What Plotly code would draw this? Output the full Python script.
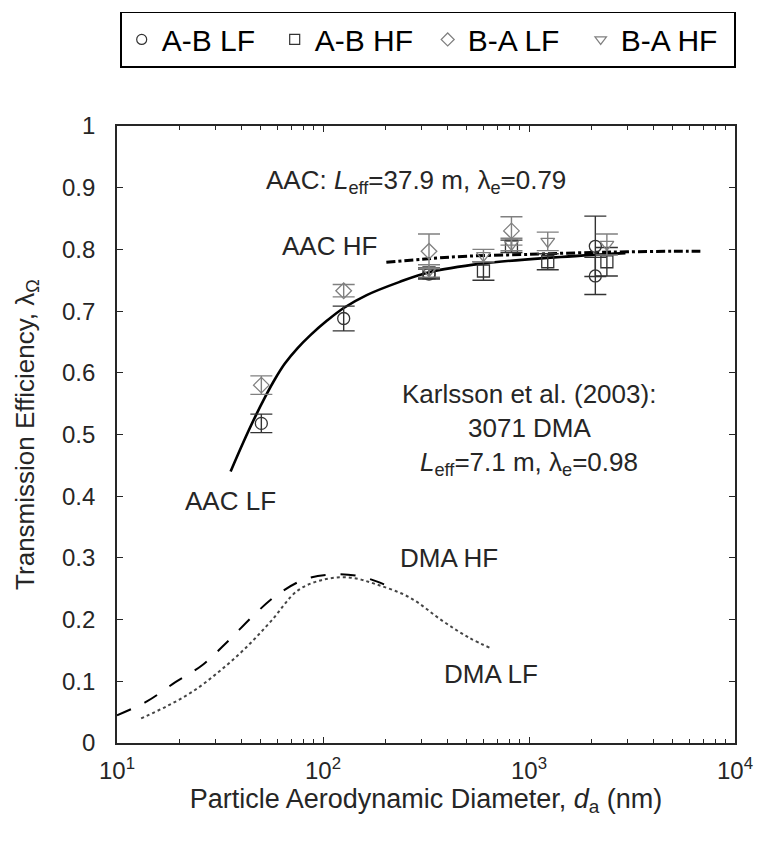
import math
import plotly.graph_objects as go

# ---------------- data ----------------
# AAC fitted curve (solid, LF)
aac_lf_d = [35.6, 41.0, 46.9, 52.4, 58.5, 65.3, 75.3, 86.9, 105, 126, 163, 234, 327, 593, 1327, 2938]
aac_lf_v = [0.440, 0.487, 0.529, 0.561, 0.590, 0.615, 0.640, 0.661, 0.685, 0.705, 0.726, 0.747, 0.763, 0.777, 0.787, 0.794]
# AAC HF (dash-dot)
aac_hf_d = [203, 300, 500, 1000, 2000, 3000, 5000, 6790]
aac_hf_v = [0.779, 0.784, 0.789, 0.792, 0.795, 0.796, 0.797, 0.797]
# DMA HF (dashed)
dma_hf_d = [10.0, 13.9, 19.3, 25.9, 34.8, 46.7, 60.4, 81.1, 109, 146, 182, 220]
dma_hf_v = [0.045, 0.067, 0.099, 0.126, 0.166, 0.209, 0.241, 0.265, 0.273, 0.271, 0.262, 0.250]
# DMA LF (dotted)
dma_lf_d = [13.1, 17.3, 23.2, 31.1, 41.8, 56.1, 75.3, 101, 136, 182, 263, 380, 509, 659]
dma_lf_v = [0.040, 0.059, 0.083, 0.115, 0.153, 0.198, 0.247, 0.265, 0.268, 0.257, 0.236, 0.198, 0.171, 0.153]

# measured points with error bars
ab_lf_d = [50.2, 126, 327, 2099, 2099]
ab_lf_v = [0.518, 0.688, 0.760, 0.757, 0.805]
ab_lf_e = [0.015, 0.020, 0.008, 0.030, 0.049]

ab_hf_d = [327, 601, 822, 1233, 2388]
ab_hf_v = [0.762, 0.765, 0.805, 0.780, 0.780]
ab_hf_e = [0.008, 0.015, 0.010, 0.013, 0.023]

ba_lf_d = [50.2, 126, 327, 822]
ba_lf_v = [0.580, 0.733, 0.797, 0.830]
ba_lf_e = [0.015, 0.010, 0.028, 0.023]

ba_hf_d = [327, 601, 822, 1233, 2388]
ba_hf_v = [0.765, 0.790, 0.808, 0.813, 0.808]
ba_hf_e = [0.010, 0.010, 0.010, 0.015, 0.017]

legend_names = ["A-B LF", "A-B HF", "B-A LF", "B-A HF"]
x_tickvals = [10, 100, 1000, 10000]
x_ticktext = ["10<sup>1</sup>", "10<sup>2</sup>", "10<sup>3</sup>", "10<sup>4</sup>"]
x_minor = [20, 30, 40, 50, 60, 70, 80, 90, 200, 300, 400, 500, 600, 700, 800, 900,
           2000, 3000, 4000, 5000, 6000, 7000, 8000, 9000]

# ---------------- figure ----------------
FONT = "Liberation Sans, Arial, sans-serif"
TXT = "#262626"
DARK = "#333333"
GREY = "#808080"

fig = go.Figure()

fig.add_trace(go.Scatter(x=dma_hf_d, y=dma_hf_v, mode="lines", line_shape="spline",
                         line=dict(color="black", width=2, dash="longdash"), showlegend=False))
fig.add_trace(go.Scatter(x=dma_lf_d, y=dma_lf_v, mode="lines", line_shape="spline",
                         line=dict(color="#444444", width=2, dash="dot"), showlegend=False))
fig.add_trace(go.Scatter(x=aac_hf_d, y=aac_hf_v, mode="lines", line_shape="spline",
                         line=dict(color="black", width=3, dash="dashdot"), showlegend=False))
fig.add_trace(go.Scatter(x=aac_lf_d, y=aac_lf_v, mode="lines", line_shape="spline",
                         line=dict(color="black", width=2.6), showlegend=False))

def pts(d, v, e, sym, col):
    fig.add_trace(go.Scatter(
        x=d, y=v, mode="markers",
        marker=dict(symbol=sym, size=12, color=col, line=dict(color=col, width=1.3)),
        error_y=dict(type="data", array=e, visible=True, color=col,
                     thickness=1.4, width=11),
        showlegend=False))

pts(ab_lf_d, ab_lf_v, ab_lf_e, "circle-open", DARK)
pts(ab_hf_d, ab_hf_v, ab_hf_e, "square-open", DARK)
pts(ba_lf_d, ba_lf_v, ba_lf_e, "diamond-open", GREY)
pts(ba_hf_d, ba_hf_v, ba_hf_e, "triangle-down-open", GREY)

# legend entries
for name, sym, col in zip(legend_names,
                          ["circle-open", "square-open", "diamond-open", "triangle-down-open"],
                          [DARK, DARK, GREY, GREY]):
    fig.add_trace(go.Scatter(x=[None], y=[None], mode="markers", name=name,
                             marker=dict(symbol=sym, size=10, color=col,
                                         line=dict(color=col, width=1.2))))

ann_font = dict(family=FONT, size=26, color=TXT)
def ann(x, y, text, xanchor="center"):
    fig.add_annotation(x=x, y=y, xref="x", yref="y", text=text, showarrow=False,
                       xanchor=xanchor, yanchor="middle", font=ann_font)

ann(math.log10(283), 0.910, "AAC: <i>L</i><sub>eff</sub>=37.9 m, λ<sub>e</sub>=0.79")
ann(math.log10(186), 0.805, "AAC HF", xanchor="right")
ann(math.log10(60.4), 0.392, "AAC LF", xanchor="right")
ann(math.log10(1000), 0.566, "Karlsson et al. (2003):")
ann(math.log10(1000), 0.510, "3071 DMA")
ann(math.log10(1000), 0.453, "<i>L</i><sub>eff</sub>=7.1 m, λ<sub>e</sub>=0.98")
ann(math.log10(408), 0.300, "DMA HF")
ann(math.log10(655), 0.112, "DMA LF")

axis_common = dict(showline=True, linecolor=TXT, linewidth=1.6, mirror="ticks",
                   ticks="inside", tickcolor=TXT, tickwidth=1.3, ticklen=6,
                   showgrid=False, zeroline=False,
                   tickfont=dict(family=FONT, size=24, color=TXT))

fig.update_xaxes(type="log", range=[1, 4], tickvals=x_tickvals, ticktext=x_ticktext,
                 minor=dict(tickvals=x_minor, ticks="inside", ticklen=4, tickcolor=TXT, tickwidth=1.2),
                 title=dict(text="Particle Aerodynamic Diameter, <i>d</i><sub>a</sub> (nm)",
                            font=dict(family=FONT, size=27, color=TXT), standoff=6),
                 ticklabelstandoff=5,
                 **axis_common)
fig.update_yaxes(range=[0, 1], dtick=0.1,
                 title=dict(text="Transmission Efficiency, λ<sub>Ω</sub>",
                            font=dict(family=FONT, size=26, color=TXT), standoff=20),
                 ticklabelstandoff=15,
                 **axis_common)

fig.update_layout(
    width=765, height=842,
    margin=dict(l=117, r=22, t=123, b=99),
    plot_bgcolor="white", paper_bgcolor="white",
    font=dict(family=FONT, color=TXT),
    legend=dict(orientation="h", x=0.005, y=1.185, xanchor="left", yanchor="top",
                bordercolor="black", borderwidth=1.6,
                font=dict(family=FONT, size=30, color="black"),
                entrywidth=108, entrywidthmode="pixels", itemwidth=30,
                bgcolor="white"),
)

fig.write_html("out.html")
